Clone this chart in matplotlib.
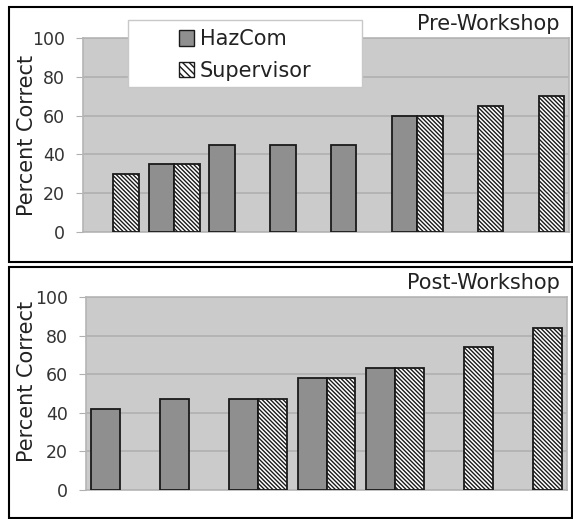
import numpy as np
import matplotlib
matplotlib.use("Agg")
import matplotlib.pyplot as plt
from matplotlib.patches import Rectangle, Patch

# values (None = no bar)
pre_hazcom = [None, 35, 45, 45, 45, 60, None, None]
pre_supervisor = [30, 35, None, None, None, 60, 65, 70]
post_hazcom = [42, 47, 47, 58, 63, None, None]
post_supervisor = [None, None, 47, 58, 63, 74, 84]
yticks = [0, 20, 40, 60, 80, 100]

W, H = 573, 519
plt.rcParams['font.family'] = ['DejaVu Sans']
plt.rcParams['hatch.linewidth'] = 1.0

fig = plt.figure(figsize=(W / 100, H / 100), dpi=100)


def px_axes(left, top, right, bottom):
    return fig.add_axes([left / W, 1 - bottom / H, (right - left) / W, (bottom - top) / H])


def fig_rect(left, top, right, bottom, **kw):
    r = Rectangle((left / W, 1 - bottom / H), (right - left) / W, (bottom - top) / H,
                  transform=fig.transFigure, **kw)
    fig.patches.append(r)
    return r


# outer panel frames
fig_rect(9, 7, 572, 262, fill=False, edgecolor='black', linewidth=1.5)
fig_rect(9, 267, 572, 518, fill=False, edgecolor='black', linewidth=1.5)

HATCH = '\\' * 8


def draw_panel(ax, hazcom, supervisor, title, label_xy, title_xy):
    n = len(hazcom)
    w = 0.42
    hz = [(i, v) for i, v in enumerate(hazcom) if v is not None]
    sv = [(i, v) for i, v in enumerate(supervisor) if v is not None]
    ax.bar([i - w / 2 for i, _ in hz], [v for _, v in hz], width=w,
           color='#8f8f8f', edgecolor='#1a1a1a', linewidth=1.3, zorder=3)
    ax.bar([i + w / 2 for i, _ in sv], [v for _, v in sv], width=w,
           color='white', edgecolor='#1a1a1a', hatch=HATCH, linewidth=1.3, zorder=3)
    ax.set_xlim(-0.5, n - 0.5)
    ax.set_ylim(0, 100)
    ax.set_facecolor('#cbcbcb')
    ax.set_yticks(yticks)
    ax.set_xticks([])
    ax.grid(axis='y', color='#b0b0b0', linewidth=1.2, zorder=0)
    ax.tick_params(axis='y', length=5, color='#b0b0b0', labelsize=12.5,
                   labelcolor='#333333', pad=8)
    for s in ax.spines.values():
        s.set_color('#b5b5b5')
        s.set_linewidth(1.2)
    ax.set_ylabel('Percent Correct', fontsize=15, color='#222222')
    ax.yaxis.set_label_coords(*label_xy)
    ax.text(title_xy[0], title_xy[1], title, transform=ax.transAxes, ha='right',
            va='baseline', fontsize=15, color='#222222')


ax1 = px_axes(83, 38, 569, 232)
draw_panel(ax1, pre_hazcom, pre_supervisor, 'Pre-Workshop',
           ((37 - 83) / 486, 0.5), (0.981, 1.041))

ax2 = px_axes(86, 297, 567, 490)
draw_panel(ax2, post_hazcom, post_supervisor, 'Post-Workshop',
           ((37 - 86) / 481, 0.56), (0.985, 1.041))

# legend box drawn separately, entries centred in it
fig_rect(128, 20, 362, 87, facecolor='white', edgecolor='#c8c8c8', linewidth=1.0, zorder=5)
handles = [Patch(facecolor='#8f8f8f', edgecolor='#1a1a1a', label='HazCom'),
           Patch(facecolor='white', edgecolor='#1a1a1a', hatch='\\\\\\\\\\', label='Supervisor')]
leg = fig.legend(handles=handles, loc='center',
                 bbox_to_anchor=(245 / W, 1 - 55 / H),
                 fontsize=15, frameon=False, handlelength=0.75,
                 handleheight=0.75, handletextpad=0.25, labelspacing=0.55)
leg.set_zorder(6)
for t in leg.get_texts():
    t.set_color('#222222')

fig.savefig('out.png', dpi=100, facecolor='white')
